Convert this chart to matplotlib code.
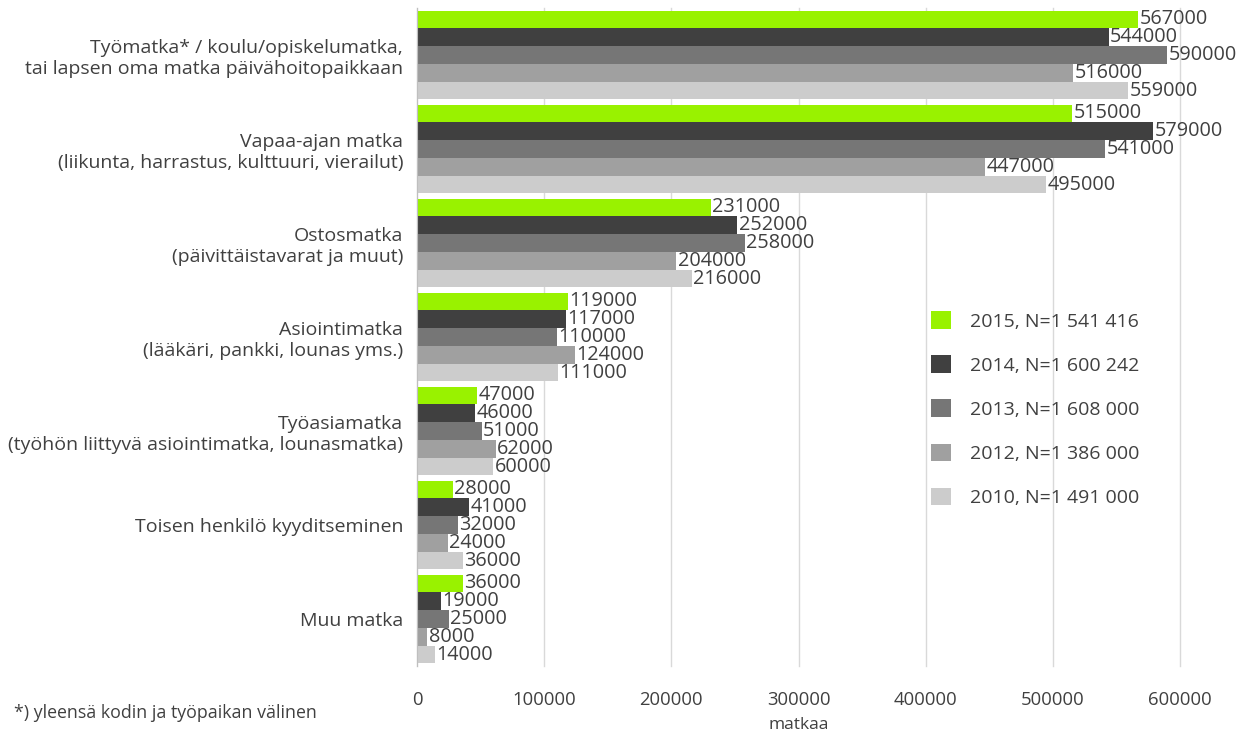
import numpy as np
import matplotlib
matplotlib.use('Agg')
import matplotlib.pyplot as plt

plt.rcParams['font.family'] = ['Open Sans', 'DejaVu Sans']

# Data
categories = ['Työmatka* / koulu/opiskelumatka,\ntai lapsen oma matka päivähoitopaikkaan',
              'Vapaa-ajan matka\n(liikunta, harrastus, kulttuuri, vierailut)',
              'Ostosmatka\n(päivittäistavarat ja muut)',
              'Asiointimatka\n(lääkäri, pankki, lounas yms.)',
              'Työasiamatka\n(työhön liittyvä asiointimatka, lounasmatka)',
              'Toisen henkilö kyyditseminen',
              'Muu matka']
series = ['2015, N=1 541 416', '2014, N=1 600 242', '2013, N=1 608 000',
          '2012, N=1 386 000', '2010, N=1 491 000']
v2015 = [567000, 515000, 231000, 119000, 47000, 28000, 36000]
v2014 = [544000, 579000, 252000, 117000, 46000, 41000, 19000]
v2013 = [590000, 541000, 258000, 110000, 51000, 32000, 25000]
v2012 = [516000, 447000, 204000, 124000, 62000, 24000, 8000]
v2010 = [559000, 495000, 216000, 111000, 60000, 36000, 14000]
values = [v2015, v2014, v2013, v2012, v2010]
colors = ['#99f200', '#404040', '#767676', '#a0a0a0', '#cccccc']
text_col = '#404040'

fig = plt.figure(figsize=(12.49, 7.33), dpi=100)
ax = fig.add_axes([417/1249, 1-666/733, 763/1249, 658/733])

y = np.arange(len(categories))
h = 0.189
for j, (vals, c, lab) in enumerate(zip(values, colors, series)):
    bars = ax.barh(y + (j - 2) * h, vals, height=h, color=c, label=lab, zorder=2)
    ax.bar_label(bars, padding=1, fontsize=14.3, color=text_col, clip_on=False)

ax.set_ylim(6.5, -0.5)
ax.set_xlim(0, 600000)
ax.set_xticks(np.arange(0, 600001, 100000))
ax.set_xticklabels([str(v) for v in range(0, 600001, 100000)])
ax.set_yticks(y)
ax.set_yticklabels(categories, fontsize=14, color=text_col, multialignment='right')
ax.tick_params(axis='y', length=0, pad=10)
ax.tick_params(axis='x', length=0, pad=18, labelsize=13.3, labelcolor=text_col)
ax.grid(axis='x', color='#d9d9d9', linewidth=1, zorder=0)
for gl in ax.get_xgridlines():
    gl.set_clip_on(False)
for s in ['top', 'right', 'bottom']:
    ax.spines[s].set_visible(False)
ax.spines['left'].set_color('#bfbfbf')
ax.spines['left'].set_zorder(3)

ax.set_xlabel('matkaa', fontsize=12.5, color=text_col, labelpad=6)

ax.legend(loc='upper left', bbox_to_anchor=(0.674, 0.539), frameon=False,
          fontsize=14, labelcolor=text_col, handlelength=1.0, handleheight=1.0,
          handletextpad=1.0, labelspacing=1.27, borderpad=0, borderaxespad=0)

fig.text(14/1249, 1-713/733, '*) yleensä kodin ja työpaikan välinen', fontsize=12.8,
         color=text_col, va='center', ha='left')

fig.savefig('out.png', dpi=100)
